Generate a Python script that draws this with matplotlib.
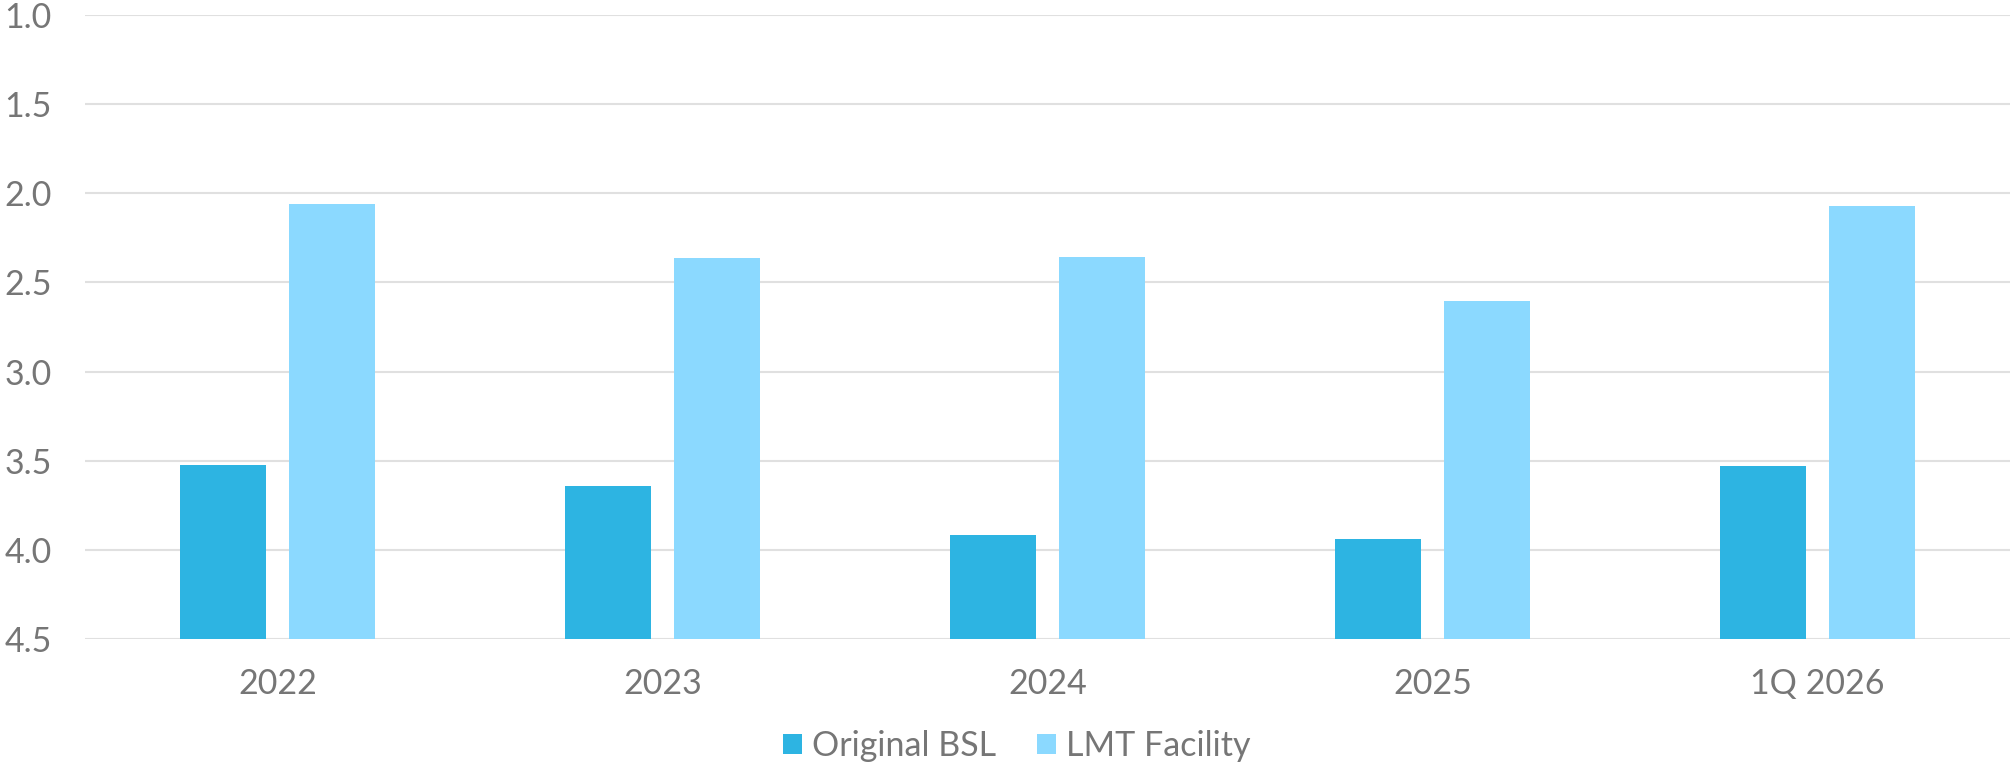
import matplotlib.pyplot as plt
import numpy as np

# Chart data
categories = ['2022', '2023', '2024', '2025', '1Q 2026']
original_bsl = [3.524, 3.644, 3.919, 3.940, 3.530]
lmt_facility = [2.061, 2.362, 2.360, 2.605, 2.069]
y_ticks = [1.0, 1.5, 2.0, 2.5, 3.0, 3.5, 4.0, 4.5]

base = 4.5
text_color = '#767676'
font_size = 24.5
plt.rcParams['font.family'] = ['Lato', 'DejaVu Sans']

fig = plt.figure(figsize=(20.11, 7.67), dpi=100)
ax = fig.add_axes([85 / 2011, 1 - 639 / 767, 1925 / 2011, 624 / 767])

x = np.arange(len(categories))
width = 0.2234
offset = 0.1416

# bars hang from the 4.5 baseline on an inverted axis
ax.bar(x - offset, np.array(original_bsl) - base, bottom=base, width=width,
       color='#2db4e2', label='Original BSL', zorder=3)
ax.bar(x + offset, np.array(lmt_facility) - base, bottom=base, width=width,
       color='#8bd9ff', label='LMT Facility', zorder=3)

ax.set_ylim(4.5, 1.0)
ax.set_xlim(-0.5, len(categories) - 0.5)
ax.set_yticks(y_ticks)
ax.set_yticklabels([f'{t:.1f}' for t in y_ticks])
ax.set_xticks(x)
ax.set_xticklabels(categories)

ax.grid(axis='y', color='#e0e0e0', linewidth=1.5, zorder=0)
ax.set_axisbelow(True)
for s in ax.spines.values():
    s.set_visible(False)
ax.tick_params(axis='both', length=0, labelsize=font_size, labelcolor=text_color)
ax.tick_params(axis='y', pad=24)
ax.tick_params(axis='x', pad=21)

fig.legend(loc='center', bbox_to_anchor=(1017 / 2011, 1 - 746 / 767), ncol=2,
           frameon=False, fontsize=font_size, labelcolor=text_color,
           handlelength=0.55, handleheight=0.55, handletextpad=0.3,
           columnspacing=1.2, borderpad=0, borderaxespad=0)

fig.savefig('out.png', dpi=100)
